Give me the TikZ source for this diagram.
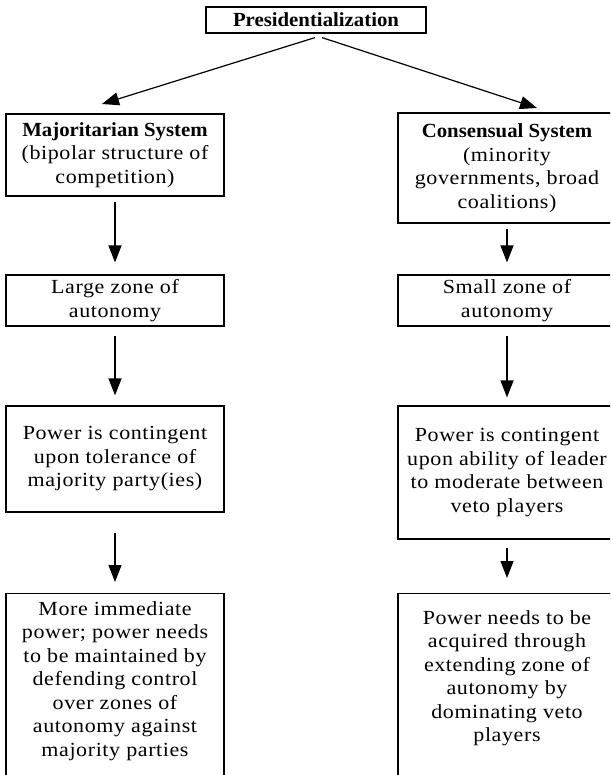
\documentclass[tikz,border=0pt]{standalone}
\usepackage{fontspec}
\setmainfont{Liberation Serif}[UprightFeatures={FakeStretch=1.1, LetterSpace=3}, BoldFeatures={FakeStretch=1.04}]
\usetikzlibrary{arrows.meta}
\begin{document}
\begin{tikzpicture}[x=1pt,y=-1pt,
  box/.style={draw, line width=1.2pt, minimum width=218pt, align=center, inner sep=2pt,
    font=\fontsize{20}{23.5}\selectfont},
  arr/.style={-{Triangle[length=17pt,width=13pt]}, line width=1.2pt}]
\useasboundingbox (0,0) rectangle (610,775);
\clip (0,0) rectangle (610,775);
\node[box, minimum width=220pt, minimum height=26pt, font=\fontsize{20}{23.5}\selectfont\bfseries] (top) at (316,20) {Presidentialization};
\node[box, minimum height=82pt] (maj) at (115,155) {\textbf{Majoritarian System}\\(bipolar structure of\\competition)};
\node[box, minimum height=110pt] (cons) at (507,168) {\textbf{Consensual System}\\(minority\\governments, broad\\coalitions)};
\node[box, minimum height=51pt] (large) at (115,300.5) {Large zone of\\autonomy};
\node[box, minimum height=51pt] (small) at (507,300.5) {Small zone of\\autonomy};
\node[box, minimum height=106pt] (powL) at (115,459) {Power is contingent\\upon tolerance of\\majority party(ies)};
\node[box, minimum height=133pt] (powR) at (507,472.5) {Power is contingent\\upon ability of leader\\to moderate between\\veto players};
\node[box, anchor=north, inner ysep=8pt, text depth=250pt] (lastL) at (115,593) {More immediate\\power; power needs\\to be maintained by\\defending control\\over zones of\\autonomy against\\majority parties};
\node[box, anchor=north, inner ysep=17pt, text depth=250pt] (lastR) at (507,593) {Power needs to be\\acquired through\\extending zone of\\autonomy by\\dominating veto\\players};
\coordinate (tl) at (102,104);
\coordinate (tr) at (537,108);
\draw[arr] ([xshift=-1pt,yshift=-4pt]top.south) -- (tl);
\draw[arr] ([xshift=6pt,yshift=-4pt]top.south) -- (tr);
\draw[arr] ([yshift=-5pt]maj.south) -- ([yshift=12pt]large.north);
\draw[arr] ([yshift=-9pt]large.south) -- ([yshift=10pt]powL.north);
\draw[arr] ([yshift=-20pt]powL.south) -- ([yshift=11pt]lastL.north);
\draw[arr] ([yshift=-5pt]cons.south) -- ([yshift=12pt]small.north);
\draw[arr] ([yshift=-9pt]small.south) -- ([yshift=8pt]powR.north);
\draw[arr] ([yshift=-8pt]powR.south) -- ([yshift=15pt]lastR.north);
\end{tikzpicture}
\end{document}
